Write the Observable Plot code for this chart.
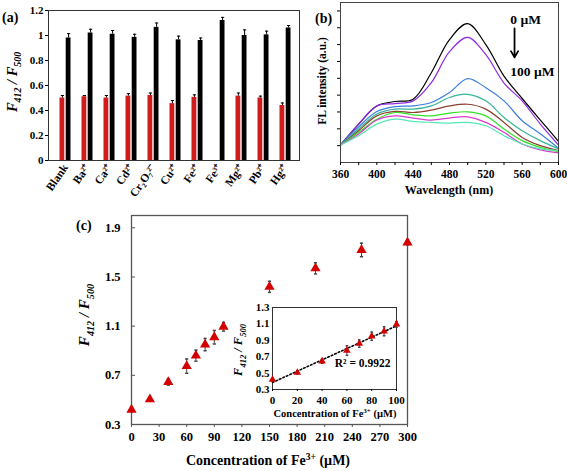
<!DOCTYPE html>
<html><head><meta charset="utf-8">
<script src="https://cdn.jsdelivr.net/npm/d3@7"></script>
<script src="https://cdn.jsdelivr.net/npm/@observablehq/plot@0.6"></script>
<style>
body{margin:0;background:#fff}
#fig{position:relative;width:567px;height:471px;overflow:hidden;background:#fff}
#fig svg{position:absolute;left:0;top:0}
</style></head><body><div id="fig"></div>
<script>
// ---------- Panel (a) data ----------
const ionLabels = ["Blank","Ba²⁺","Ca²⁺","Cd²⁺","Cr₂O₇²⁻","Cu²⁺","Fe²⁺","Fe³⁺","Mg²⁺","Pb²⁺","Hg²⁺"];
const ratioRed   = [0.50,0.51,0.50,0.515,0.52,0.455,0.505,null,0.515,0.50,0.44];
const errRed     = [0.02,0.01,0.02,0.02,0.02,0.025,0.02,null,0.025,0.015,0.02];
const ratioBlack = [0.98,1.02,1.01,0.985,1.065,0.965,0.96,1.12,1.0,1.005,1.06];
const errBlack   = [0.035,0.03,0.03,0.025,0.035,0.03,0.02,0.025,0.045,0.03,0.02];
const ticksA = [0,0.2,0.4,0.6,0.8,1,1.2];

// ---------- Panel (b) data ----------
const wavelengths = [360,380,400,420,440,460,480,500,520,540,560,580,600];
const concB = [0,20,40,60,70,80,90,100];
const spectrum0   = [104,228,336,362,376,533,730,824,700,513,380,252,126];
const spectrum20  = [104,228,336,350,366,474,658,743,640,472,366,228,104];
const spectrum40  = [104,212,303,332,336,356,415,498,444,366,248,171,85];
const spectrum60  = [104,199,288,317,317,336,386,405,366,267,189,130,81];
const spectrum70  = [104,189,277,303,297,311,336,346,317,238,149,100,71];
const spectrum80  = [104,179,257,297,283,277,293,301,277,199,130,90,65];
const spectrum90  = [104,169,252,277,264,252,264,271,238,179,110,75,57];
const spectrum100 = [104,159,228,257,244,238,234,238,218,159,110,81,71];
const spectra = [spectrum0,spectrum20,spectrum40,spectrum60,spectrum70,spectrum80,spectrum90,spectrum100];
const colorsB = ["#000000","#8f2be0","#3d7fdb","#35b596","#8b3f2f","#33e02a","#d43dc9","#55e8b4"];

// ---------- Panel (c) data ----------
const concC  = [0,20,40,60,70,80,90,100,150,200,250,300];
const ratioC = [0.42,0.505,0.645,0.775,0.86,0.95,1.01,1.095,1.42,1.57,1.72,1.78];
const errC   = [0.015,0.012,0.025,0.058,0.045,0.05,0.055,0.035,0.045,0.045,0.055,0.02];
const r2Label = "R² = 0.9922";

// ---------- layout helpers ----------
const W = 567, H = 471;
const FONT = "'Liberation Serif','Times New Roman',serif";
const baseStyle = {fontFamily: FONT, fontWeight: "bold", fontSize: "11px", background: "transparent", color: "#000", overflow: "visible"};
const frameBox = (l, t, r, b) => ({marginLeft: l, marginTop: t, marginRight: W - r, marginBottom: H - b});
const capSymbol = {draw(ctx, size) { const r = Math.sqrt(size / Math.PI); ctx.moveTo(-r, 0); ctx.lineTo(r, 0); }};
const fig = document.getElementById("fig");

// ---------- (a) ----------
const rowsA = ionLabels.map((ion, i) => ({ion, red: ratioRed[i], redErr: errRed[i], black: ratioBlack[i], blackErr: errBlack[i]}));
const redRows = rowsA.filter(d => d.red != null);
const chartA = Plot.plot({
  width: W, height: H, ...frameBox(48, 10, 299, 160),
  style: baseStyle,
  x: {domain: ionLabels, padding: 0, insetLeft: 3.3, insetRight: 0.8, label: null},
  y: {domain: [0, 1.2], label: null},
  marks: [
    Plot.barY(redRows, {x: "ion", y: "red", fill: "#cf1b1b", insetLeft: 5.5, insetRight: 11.7}),
    Plot.barY(rowsA, {x: "ion", y: "black", fill: "#000", insetLeft: 11.7, insetRight: 5.5}),
    Plot.ruleX(redRows, {x: "ion", y1: "red", y2: d => d.red + d.redErr, dx: -3.1, stroke: "#000"}),
    Plot.dot(redRows, {x: "ion", y: d => d.red + d.redErr, dx: -3.1, symbol: capSymbol, r: 1.6, stroke: "#000", strokeWidth: 1}),
    Plot.ruleX(rowsA, {x: "ion", y1: "black", y2: d => d.black + d.blackErr, dx: 3.1, stroke: "#000"}),
    Plot.dot(rowsA, {x: "ion", y: d => d.black + d.blackErr, dx: 3.1, symbol: capSymbol, r: 1.6, stroke: "#000", strokeWidth: 1}),
    Plot.frame({stroke: "#333"}),
    Plot.axisY({ticks: ticksA, tickFormat: d => String(+d.toFixed(1)), tickSize: 3, tickPadding: 2, fontSize: 11}),
    Plot.axisX({tickSize: 0, tickRotate: -55, tickPadding: 5, fontSize: 11.5})
  ]
});

// ---------- (b) ----------
const rowsB = concB.flatMap((c, k) => wavelengths.map((w, j) => ({conc: c, w, I: spectra[k][j]})));
const chartB = Plot.plot({
  width: W, height: H, ...frameBox(340, 2, 558, 162),
  style: baseStyle,
  x: {domain: [360, 600], label: null},
  y: {domain: [0, 950], label: null},
  color: {type: "ordinal", domain: concB, range: colorsB},
  marks: [
    Plot.line(rowsB, {x: "w", y: "I", z: "conc", stroke: "conc", strokeWidth: 1.2, curve: "catmull-rom"}),
    Plot.frame({stroke: "#444"}),
    Plot.axisX({ticks: d3.range(360, 601, 40), tickSize: 3, tickPadding: 4, fontSize: 11.5}),
    Plot.axisX({ticks: d3.range(380, 600, 40), tickSize: 3, tickFormat: () => ""}),
    Plot.axisY({ticks: d3.range(100, 951, 100), tickSize: 3, tickFormat: () => ""}),
    Plot.text([{w: 547, I: 849, t: concB[0] + " µM"}, {w: 547, I: 540, t: concB[concB.length - 1] + " µM"}],
      {x: "w", y: "I", text: "t", textAnchor: "start", fontSize: 13.5}),
    Plot.arrow([{w: 551.6, I1: 796, I2: 624}], {x: "w", y1: "I1", y2: "I2", strokeWidth: 1.8, headLength: 6, stroke: "#000"})
  ]
});

// ---------- (c) main ----------
const rowsC = concC.map((c, i) => ({c, r: ratioC[i], e: errC[i]}));
const ticksC = [0.3, 0.7, 1.1, 1.5, 1.9];
const chartC = Plot.plot({
  width: W, height: H, ...frameBox(131, 215, 407, 424),
  style: baseStyle,
  x: {domain: [0, 300], label: null},
  y: {domain: [0.3, 2.0], label: null},
  marks: [
    Plot.frame({stroke: "#555", strokeWidth: 1.3}),
    Plot.axisX({ticks: d3.range(0, 301, 30), tickSize: 3, tickPadding: 5, fontSize: 12.5, stroke: "#555"}),
    Plot.axisY({ticks: ticksC, tickSize: 0, tickPadding: 11, fontSize: 12.5, tickFormat: d => d.toFixed(1)}),
    Plot.tickY(ticksC, {y: d => d, stroke: "#555", insetRight: 276 - 4}),
    Plot.ruleX(rowsC, {x: "c", y1: d => d.r - d.e, y2: d => d.r + d.e, stroke: "#444"}),
    Plot.dot(rowsC, {x: "c", y: d => d.r + d.e, symbol: capSymbol, r: 1.6, stroke: "#444"}),
    Plot.dot(rowsC, {x: "c", y: d => d.r - d.e, symbol: capSymbol, r: 1.6, stroke: "#444"}),
    Plot.dot(rowsC, {x: "c", y: "r", symbol: "triangle", r: 3.8, fill: "#d40000", stroke: "none"})
  ]
});

// ---------- (c) inset ----------
const rowsIn = rowsC.filter(d => d.c <= 100);
const chartIn = Plot.plot({
  width: W, height: H, ...frameBox(272, 307, 396, 389),
  style: baseStyle,
  x: {domain: [0, 100], label: null},
  y: {domain: [0.3, 1.3], label: null},
  marks: [
    Plot.frame({fill: "#fff", stroke: "#333"}),
    Plot.axisX({ticks: d3.range(0, 101, 20), tickSize: 2, tickPadding: 5, fontSize: 11}),
    Plot.axisY({ticks: [0.3, 0.5, 0.7, 0.9, 1.1, 1.3], tickSize: 0, tickPadding: 3, fontSize: 11, tickFormat: d => d.toFixed(1)}),
    Plot.linearRegressionY(rowsIn, {x: "c", y: "r", ci: 0, stroke: "#000", strokeWidth: 1.6, strokeDasharray: "1.6,2.2"}),
    Plot.ruleX(rowsIn, {x: "c", y1: d => d.r - d.e, y2: d => d.r + d.e, stroke: "#444"}),
    Plot.dot(rowsIn, {x: "c", y: d => d.r + d.e, symbol: capSymbol, r: 1.3, stroke: "#444"}),
    Plot.dot(rowsIn, {x: "c", y: d => d.r - d.e, symbol: capSymbol, r: 1.3, stroke: "#444"}),
    Plot.dot(rowsIn, {x: "c", y: "r", symbol: "triangle", r: 2.8, fill: "#d40000", stroke: "none"}),
    Plot.text([r2Label], {frameAnchor: "bottom-right", textAnchor: "end", dx: -6, dy: -23, fontSize: 11.5})
  ]
});

for (const c of [chartA, chartB, chartC, chartIn]) fig.appendChild(c);

// ---------- labels overlay ----------
const overlay = d3.create("svg").attr("width", W).attr("height", H)
  .style("font-family", FONT).style("font-weight", "bold");
function rich(x, y, size, parts, {rotate = 0, anchor = "middle"} = {}) {
  const t = overlay.append("text").attr("text-anchor", anchor).attr("font-size", size)
    .attr("transform", `translate(${x},${y}) rotate(${rotate})`);
  let shift = 0;
  for (const p of parts) {
    const [txt, kind, it] = p;
    const target = kind === "sub" ? size * 0.3 : kind === "sup" ? -size * 0.38 : 0;
    const s = t.append("tspan").text(txt).attr("dy", target - shift)
      .attr("font-size", kind ? size * 0.68 : size);
    if (it) s.attr("font-style", "italic");
    shift = target;
  }
  return t;
}
const ratioParts = [["F", null, true], ["412", "sub", true], [" / ", null, true], ["F", null, true], ["500", "sub", true]];
rich(2, 22, 14, [["(a)"]], {anchor: "start"});
rich(315, 23, 14, [["(b)"]], {anchor: "start"});
rich(76, 230, 14, [["(c)"]], {anchor: "start"});
rich(17, 82, 14.5, ratioParts, {rotate: -90});
rich(326, 81, 11.5, [["FL intensity (a.u.)"]], {rotate: -90});
rich(449, 194, 12, [["Wavelength (nm)"]]);
rich(89, 315, 15, ratioParts, {rotate: -90});
rich(268, 465, 14, [["Concentration of Fe"], ["3+", "sup"], [" (µM)"]]);
rich(242, 350, 12.5, ratioParts, {rotate: -90});
rich(335, 417, 10.5, [["Concentration of Fe"], ["3+", "sup"], [" (µM)"]]);
fig.appendChild(overlay.node());
</script></body></html>
